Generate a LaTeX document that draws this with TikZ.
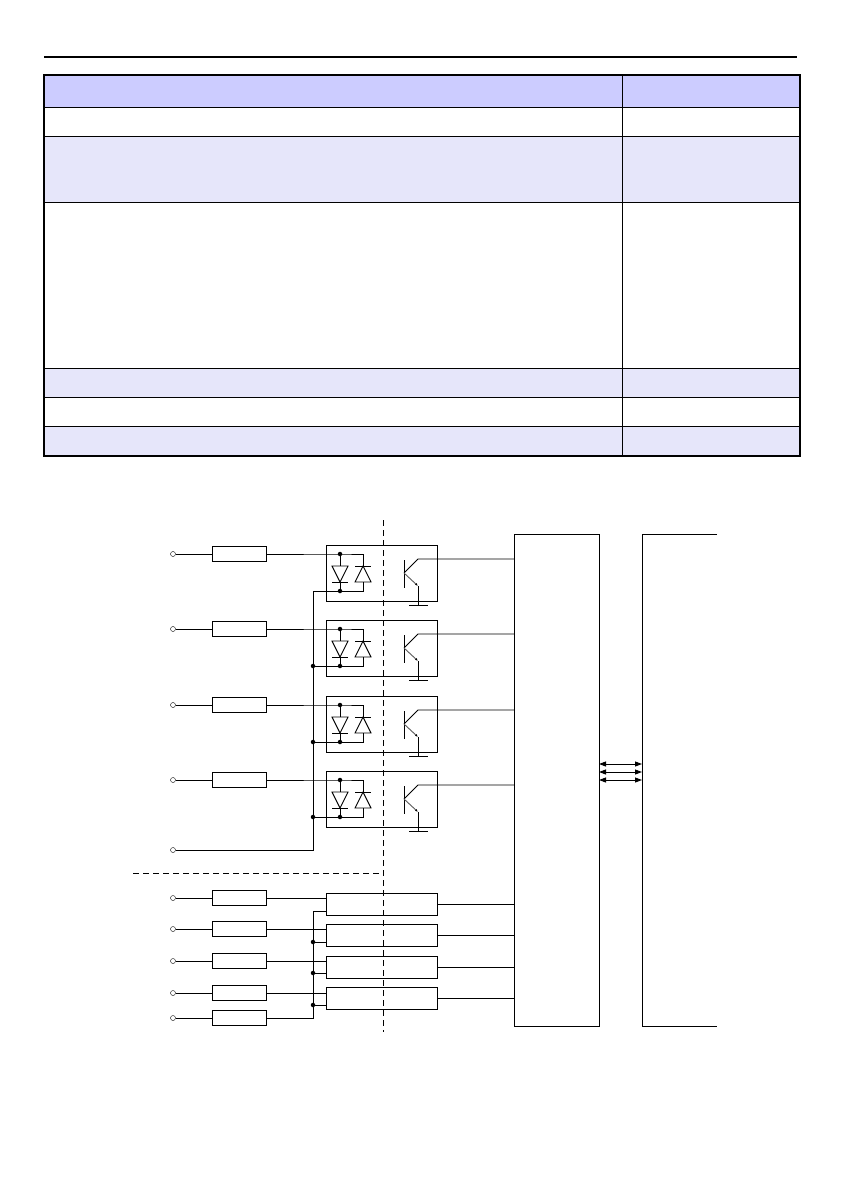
\documentclass[tikz,border=0pt]{standalone}
\usetikzlibrary{arrows.meta,positioning,calc}
\definecolor{headblue}{RGB}{204,204,255}
\definecolor{rowblue}{RGB}{230,230,250}
\tikzset{
  wire/.style={line width=0.9pt},
  resbox/.style={draw,line width=0.9pt,minimum width=54pt,minimum height=15pt,inner sep=0pt},
  term/.style={circle,draw,inner sep=0pt,minimum size=5pt},
  jdot/.style={circle,fill,inner sep=0pt,minimum size=4.5pt},
  sep/.style={dashed,line width=0.9pt,dash pattern=on 6pt off 4pt}
}
\begin{document}
\begin{tikzpicture}[x=1pt,y=-1pt]
    \useasboundingbox (0,0) rectangle (840,1190);
    % Table
    \draw[line width=1.2pt] (44,57) -- (797,57);
    \fill[headblue] (44,75) rectangle (800,108);
    \fill[rowblue] (44,137) rectangle (800,203);
    \fill[rowblue] (44,368) rectangle (800,397);
    \fill[rowblue] (44,426) rectangle (800,456);
    \foreach \y in {108,137,203,368,397,426}
        \draw[line width=1pt] (44,\y) -- (800,\y);
    \draw[line width=1pt] (622,75) -- (622,456);
    \draw[line width=2pt] (44,75) rectangle (800,456);

    % Separators
    \draw[sep] (383,520) -- (383,1032);
    \draw[sep] (133,873) -- (383,873);

    % Controller and bus blocks
    \node[draw,wire,minimum width=85pt,minimum height=492pt,inner sep=0pt,anchor=north west] (mcu) at (514,534) {};
    \draw[wire] (717,534) -- (642,534) -- (642,1026) -- (717,1026);
    \foreach \y in {764,772,780}
        \draw[wire,{Triangle[length=7pt,width=5pt]}-{Triangle[length=7pt,width=5pt]}] (599,\y) -- (642,\y);

    % Opto-coupled inputs
    \foreach \i/\y in {1/545,2/620,3/696,4/771} {
        \node[term] (t\i) at (173,\y+9) {};
        \node[resbox] (r\i) at (239,\y+9) {};
        \node[draw,wire,minimum width=111pt,minimum height=56pt,inner sep=0pt,anchor=north west] (opto\i) at (326,\y) {};
        \draw[wire] (t\i) -- (r\i);
        \draw[wire] (r\i) -- (340,\y+9) -- (363,\y+9) -- (363,\y+21);
        \node[jdot] at (340,\y+9) {};
        \node[jdot] at (340,\y+46) {};
        % antiparallel diodes
        \draw[wire] (340,\y+9) -- (340,\y+21);
        \draw[wire] (332,\y+21) -- (348,\y+21) -- (340,\y+37) -- cycle;
        \draw[wire] (332,\y+37) -- (348,\y+37);
        \draw[wire] (340,\y+37) -- (340,\y+46);
        \draw[wire] (355,\y+21) -- (371,\y+21);
        \draw[wire] (363,\y+21) -- (355,\y+37) -- (371,\y+37) -- cycle;
        \draw[wire] (363,\y+37) -- (363,\y+46) -- (313,\y+46);
        % phototransistor
        \draw[wire] (404,\y+15) -- (404,\y+43);
        \draw[wire] (404,\y+28) -- (418,\y+14) -- (514,\y+14);
        \draw[wire,gray!70!black,-{Latex[length=3pt,black]}] (404,\y+28) -- (418,\y+41);
        \draw[wire] (418,\y+41) -- (418,\y+60);
        \draw[wire] (409,\y+60) -- (428,\y+60);
    }
    \foreach \y in {666,742,817} \node[jdot] at (313,\y) {};
    \node[term] (t5) at (173,850) {};
    \draw[wire] (t5) -- (313,850) -- (313,591);

    % Direct inputs
    \foreach \i/\y in {6/898,7/929,8/961,9/993,10/1018} {
        \node[term] (t\i) at (173,\y) {};
        \node[resbox] (r\i) at (239,\y) {};
        \draw[wire] (t\i) -- (r\i);
    }
    \foreach \i/\y in {1/893,2/924,3/956,4/987} {
        \node[draw,wire,minimum width=111pt,minimum height=22pt,inner sep=0pt,anchor=north west] (buf\i) at (326,\y) {};
        \draw[wire] (437,\y+11) -- (514,\y+11);
    }
    \draw[wire] (r6) -- (buf1.west |- r6);
    \draw[wire] (r7) -- (buf2.west |- r7);
    \draw[wire] (r8) -- (buf3.west |- r8);
    \draw[wire] (r9) -- (buf4.west |- r9);
    \draw[wire] (r10) -- (313,1018) -- (313,911) -- (326,911);
    \foreach \y in {942,973,1005} {
        \node[jdot] at (313,\y) {};
        \draw[wire] (313,\y) -- (326,\y);
    }
\end{tikzpicture}
\end{document}
